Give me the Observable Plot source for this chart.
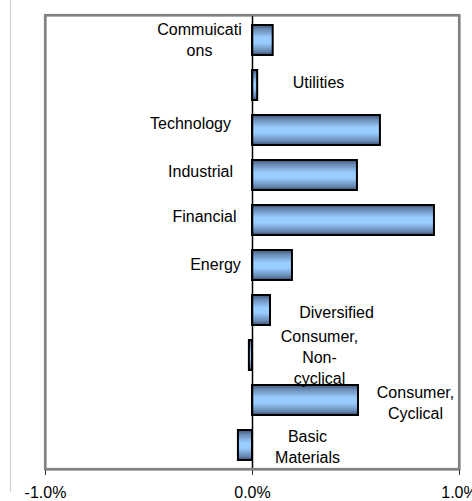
<!DOCTYPE html>
<html>
<head>
<meta charset="utf-8">
<script src="https://cdn.jsdelivr.net/npm/d3@7"></script>
<script src="https://cdn.jsdelivr.net/npm/@observablehq/plot@0.6"></script>
<style>
  html, body { margin: 0; padding: 0; background: #fff; }
  #chart { width: 472px; height: 501px; overflow: hidden; }
  svg { font-family: "Liberation Sans", Arial, sans-serif; }
</style>
</head>
<body>
<div id="chart"></div>
<script>
// Data (percent change by sector)
const categories = [
  "Commuications", "Utilities", "Technology", "Industrial", "Financial",
  "Energy", "Diversified", "Consumer, Non-cyclical", "Consumer, Cyclical", "Basic Materials"
];
const values = [0.10, 0.025, 0.618, 0.507, 0.879, 0.193, 0.087, -0.015, 0.512, -0.068];
const labelLines = [
  "Commuicati\nons", "Utilities", "Technology", "Industrial", "Financial",
  "Energy", "Diversified", "Consumer,\nNon-\ncyclical", "Consumer,\nCyclical", "Basic\nMaterials"
];
const xTicks = [-1, 0, 1];

// Label placement (pixel offsets from the zero line) — presentation only
const labelDx = [-53, 66, -62, -52, -48, -37, 84, 67, 163, 55];
const labelDy = [-2, -4, -8, -5, -5, -2, 1, 1, 1, 0];

const rows = categories.map((c, i) => ({
  category: c, value: values[i], label: labelLines[i], dx: labelDx[i], dy: labelDy[i]
}));

const plot = Plot.plot({
  width: 472,
  height: 501,
  marginLeft: 45,
  marginRight: 13,
  marginTop: 15,
  marginBottom: 32,
  style: { fontFamily: "Liberation Sans, Arial, sans-serif", fontSize: "16px", color: "black", background: "white" },
  x: { domain: [-1, 1], ticks: xTicks, tickFormat: d => d.toFixed(1) + "%" },
  y: { domain: categories, paddingInner: 0.34, paddingOuter: 0.17, axis: null },
  marks: [
    Plot.frame({ stroke: "#828282", strokeWidth: 2.2 }),
    Plot.barX(rows, { x: "value", y: "category", fill: "url(#barGrad)", stroke: "black", strokeWidth: 2 }),
    Plot.ruleX([0], { stroke: "black", strokeWidth: 1.5 }),
    ...rows.map(r => Plot.text([r], {
      x: () => 0, y: "category", text: "label",
      dx: r.dx, dy: r.dy, textAnchor: "middle", lineAnchor: "middle",
      lineHeight: 1.32, fontSize: 16, fill: "black"
    })),
    Plot.axisX({ ticks: xTicks, tickFormat: d => d.toFixed(1) + "%", tickSize: 6, tickPadding: 11, stroke: "#333", fontSize: 16, fill: "black", label: null })
  ]
});

const svg = d3.select(plot);
svg.insert("defs", ":first-child").html(`
  <linearGradient id="barGrad" x1="0" y1="0" x2="0" y2="1">
    <stop offset="0" stop-color="#3f5677"/>
    <stop offset="0.15" stop-color="#6a8cb6"/>
    <stop offset="0.42" stop-color="#99ccff"/>
    <stop offset="0.6" stop-color="#99ccff"/>
    <stop offset="0.88" stop-color="#6587b0"/>
    <stop offset="1" stop-color="#3a4f6c"/>
  </linearGradient>`);

// plot-area border drawn from the scales' ranges (reinforces the frame)
const xr = plot.scale("x").range, yr = plot.scale("y").range;
svg.append("rect")
  .attr("x", Math.min(...xr)).attr("y", Math.min(...yr))
  .attr("width", Math.abs(xr[1] - xr[0])).attr("height", Math.abs(yr[1] - yr[0]))
  .attr("fill", "none").attr("stroke", "#828282").attr("stroke-width", 2.2);

// faint chart-area border on the left
svg.append("line").attr("x1", 10.5).attr("x2", 10.5).attr("y1", 0).attr("y2", 492)
  .attr("stroke", "#cfcfcf").attr("stroke-width", 1.2);

document.getElementById("chart").appendChild(plot);
</script>
</body>
</html>
